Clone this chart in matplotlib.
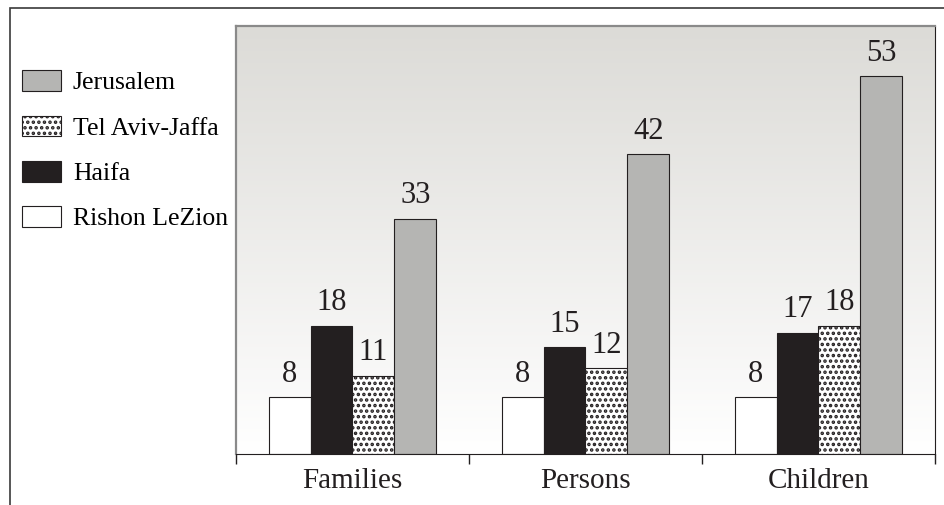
import numpy as np
import matplotlib
matplotlib.use("Agg")
import matplotlib.pyplot as plt
from matplotlib.patches import Patch, Rectangle
from matplotlib.colors import LinearSegmentedColormap

# ── data ─────────────────────────────────────────────────────────────
categories = ["Families", "Persons", "Children"]
cities = ["Rishon LeZion", "Haifa", "Tel Aviv-Jaffa", "Jerusalem"]
rishon = [8, 8, 8]
haifa = [18, 15, 17]
tel_aviv = [11, 12, 18]
jerusalem = [33, 42, 53]

series = [rishon, haifa, tel_aviv, jerusalem]
styles = [
    {"color": "white", "hatch": None},
    {"color": "#231f20", "hatch": None},
    {"color": "white", "hatch": "..."},
    {"color": "#b5b5b3", "hatch": None},
]

plt.rcParams["font.family"] = ["Liberation Serif", "DejaVu Serif"]
plt.rcParams["hatch.linewidth"] = 1.7

fig = plt.figure(figsize=(9.45, 5.05), dpi=100)
W, H = 945, 505

# outer frame (runs off the right and bottom edge)
fig.add_artist(Rectangle((10 / W, -0.1), 1.2, 1 - 8 / H + 0.1,
                         transform=fig.transFigure, fill=False,
                         edgecolor="#3a3a3a", linewidth=1.2))

ax = fig.add_axes([236 / W, 1 - 454 / H, (935 - 236) / W, (454 - 26) / H])
ax.set_xlim(-0.5, 2.5)
ax.set_ylim(0, 60)

# vertical grey-to-white background
grad = LinearSegmentedColormap.from_list("bg", ["#ffffff", "#dcdbd7"])
ax.imshow(np.linspace(0, 1, 256).reshape(-1, 1), cmap=grad, origin="lower",
          extent=[-0.5, 2.5, 0, 60], aspect="auto", zorder=0)

x = np.arange(len(categories))
width = 0.18
for i, (vals, st) in enumerate(zip(series, styles)):
    pos = x + (i - 1.5) * width
    bars = ax.bar(pos, vals, width=width, color=st["color"], hatch=st["hatch"],
                  edgecolor="#231f20", linewidth=0.8, zorder=2)
    for b, v in zip(bars, vals):
        ax.annotate(str(v), (b.get_x() + b.get_width() / 2, v),
                    xytext=(0, 6), textcoords="offset points",
                    ha="center", va="bottom", fontsize=22, color="#231f20")

# category separators as ticks, labels sit in between
ax.set_xticks([-0.5, 0.5, 1.5, 2.5])
ax.set_xticklabels([])
ax.tick_params(axis="x", which="major", length=7, width=1, color="#231f20",
               direction="out")
ax.set_xticks(x, minor=True)
ax.set_xticklabels(categories, minor=True, fontsize=21, color="#231f20")
ax.tick_params(axis="x", which="minor", length=0, pad=10)
ax.set_yticks([])

ax.spines["left"].set_color("#8a8a8a")
ax.spines["left"].set_linewidth(1.6)
ax.spines["top"].set_color("#8a8a8a")
ax.spines["top"].set_linewidth(1.6)
ax.spines["right"].set_color("#231f20")
ax.spines["bottom"].set_color("#231f20")

handles = [Patch(facecolor=st["color"], hatch=st["hatch"], edgecolor="#231f20",
                 linewidth=0.8, label=c) for c, st in zip(cities, styles)]
fig.legend(handles[::-1], cities[::-1], loc="upper left",
           bbox_to_anchor=(12 / W, 1 - 60 / H), frameon=False, fontsize=18.5,
           handlelength=1.52, handleheight=0.86, handletextpad=0.45,
           labelspacing=0.82, borderaxespad=0)

fig.savefig("out.png", dpi=100)
